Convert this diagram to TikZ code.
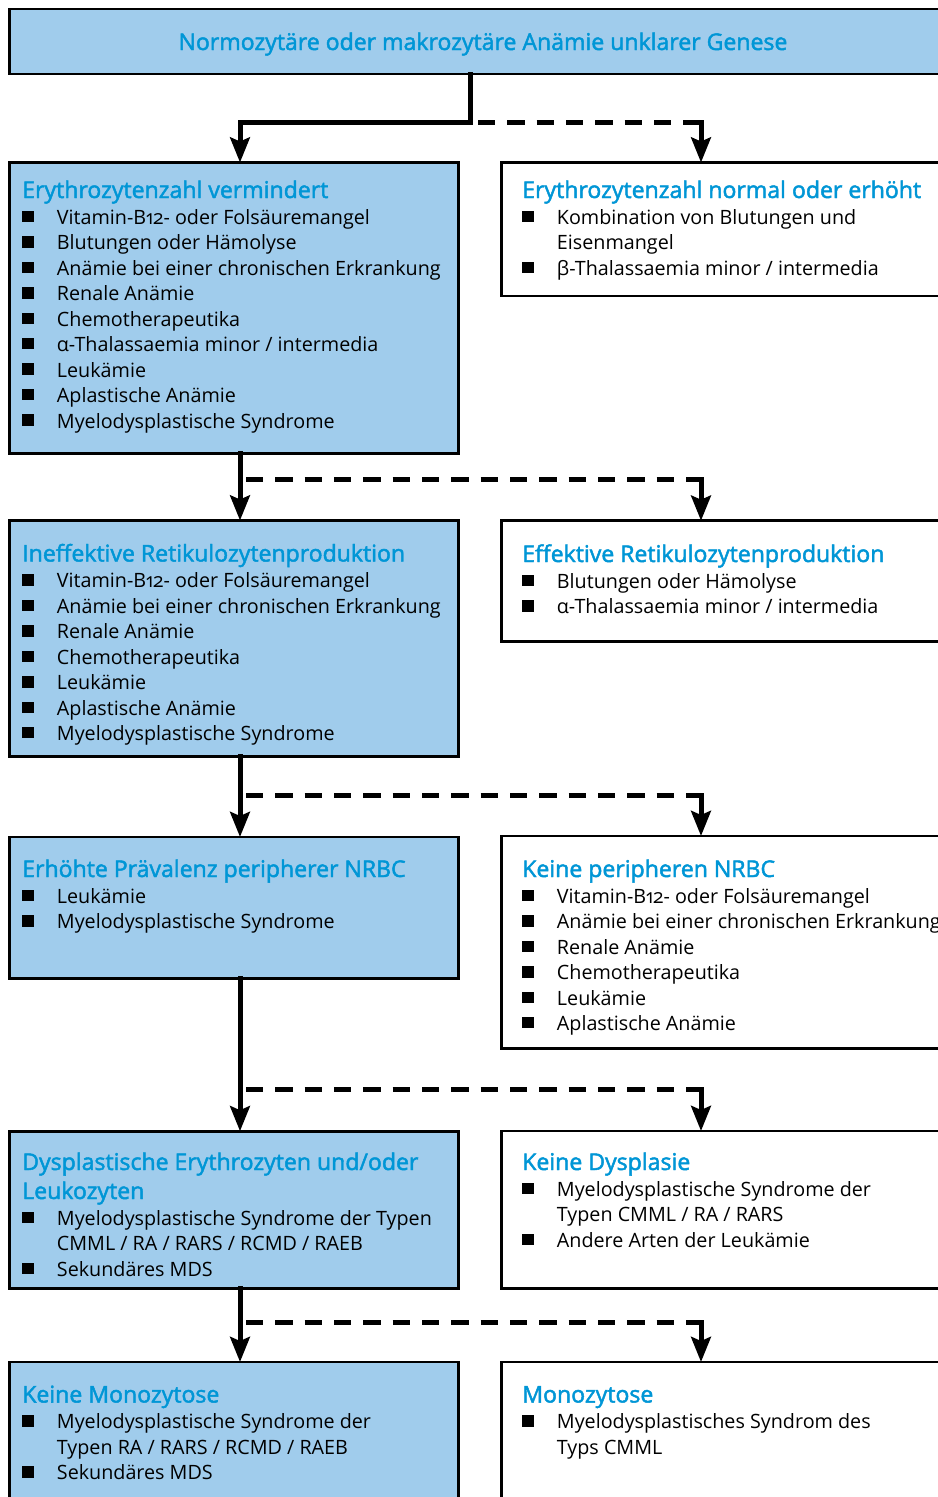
\documentclass[tikz,border=0pt]{standalone}
\usepackage{fontspec}
\setmainfont{Open Sans}
\newfontfamily\oldnum{Open Sans}[Numbers=OldStyle]
\newfontfamily\headfont{Open Sans}[FakeBold=2]
\usetikzlibrary{arrows.meta}

\definecolor{boxblue}{RGB}{160,204,236}
\definecolor{headblue}{RGB}{0,150,214}

% bullet, continuation indent, heading
\newcommand\bul{\makebox[26pt][l]{\rule[1.6pt]{8.6pt}{8.6pt}}}
\newcommand\cnt{\hspace*{26pt}}
\newcommand\hd[1]{{\headfont\fontsize{17.3pt}{21.75pt}\selectfont\color{headblue}#1}}
\newcommand\Bzw{B{\oldnum 12}}

\tikzset{
  box/.style={draw, line width=2.2pt, outer sep=0pt, inner sep=0pt, anchor=north west, minimum width=336.4pt},
  bluebox/.style={box, fill=boxblue},
  whitebox/.style={box, fill=white},
  txt/.style={anchor=base west, inner sep=0pt, font=\fontsize{14.8pt}{19.1pt}\selectfont},
  yesarrow/.style={line width=3.75pt, line cap=rect, -{Stealth[length=18.75pt,width=14.7pt,inset=3pt]}},
  noline/.style={line width=3.75pt, dash pattern=on 13pt off 9pt},
}

\begin{document}
\begin{tikzpicture}[x=0.75pt,y=0.75pt,yscale=-1,xscale=1]
\useasboundingbox (0,0) rectangle (938,1497);
\clip (0,0) rectangle (938,1497);

%Boxes
\node[bluebox, minimum width=710.6pt, minimum height=48.75pt] (start) at (9.5,9) {};
\node[bluebox, minimum height=218.25pt] (redu) at (9.5,162.5) {};
\node[whitebox, minimum height=100.1pt] (norm) at (501.5,162.5) {};
\node[bluebox, minimum height=177pt] (ineff) at (9.5,520.5) {};
\node[whitebox, minimum height=90.75pt] (eff) at (501.5,520.7) {};
\node[bluebox, minimum height=106.3pt] (nrbc) at (9.5,837) {};
\node[whitebox, minimum height=159.2pt] (nonrbc) at (501.5,836) {};
\node[bluebox, minimum height=118.1pt] (dysp) at (9.5,1131.2) {};
\node[whitebox, minimum height=118.1pt] (nodysp) at (501.5,1131) {};
\node[bluebox, minimum height=150pt] (nomono) at (9.5,1362) {};
\node[whitebox, minimum height=150pt] (mono) at (501.5,1362) {};

%Junctions
\coordinate (lx) at (240,0);
\coordinate (rx) at (701,0);
\coordinate (j0) at (470,122);
\coordinate (j1) at (240,479.5);
\coordinate (j2) at (240,795.5);
\coordinate (j3) at (240,1089);
\coordinate (j4) at (240,1322);

%Connectors
\draw[yesarrow] (start.south -| j0) -- (j0) -| (redu.north -| lx);
\draw[noline, dash phase=16pt] (j0) -- (j0 -| rx);
\draw[yesarrow] (j0 -| rx) -- (norm.north -| rx);

\draw[yesarrow] (redu.south -| lx) -- (ineff.north -| lx);
\draw[noline, dash phase=17.5pt] (j1) -- (j1 -| rx);
\draw[yesarrow] (j1 -| rx) -- (eff.north -| rx);

\draw[yesarrow] (ineff.south -| lx) -- (nrbc.north -| lx);
\draw[noline, dash phase=17.5pt] (j2) -- (j2 -| rx);
\draw[yesarrow] (j2 -| rx) -- (nonrbc.north -| rx);

\draw[yesarrow] (nrbc.south -| lx) -- (dysp.north -| lx);
\draw[noline, dash phase=17.5pt] (j3) -- (j3 -| rx);
\draw[yesarrow] (j3 -| rx) -- (nodysp.north -| rx);

\draw[yesarrow] (dysp.south -| lx) -- (nomono.north -| lx);
\draw[noline, dash phase=17.5pt] (j4) -- (j4 -| rx);
\draw[yesarrow] (j4 -| rx) -- (mono.north -| rx);

% Text Node
\node[inner sep=0pt, anchor=base] (starttxt) at (483,50) {\hd{Normozytäre oder makrozytäre Anämie unklarer Genese}};
% Text Node
\node[txt] (redutxt) at (22,198) {\begin{tabular}[t]{@{}l@{}}
\hd{Erythrozytenzahl vermindert}\\[0.6pt]
\bul Vitamin-\Bzw- oder Folsäuremangel\\
\bul Blutungen oder Hämolyse\\
\bul Anämie bei einer chronischen Erkrankung\\
\bul Renale Anämie\\
\bul Chemotherapeutika\\
\bul α-Thalassaemia minor / intermedia\\
\bul Leukämie\\
\bul Aplastische Anämie\\
\bul Myelodysplastische Syndrome
\end{tabular}};
% Text Node
\node[txt] (normtxt) at (522,198) {\begin{tabular}[t]{@{}l@{}}
\hd{Erythrozytenzahl normal oder erhöht}\\[0.6pt]
\bul Kombination von Blutungen und\\
\cnt Eisenmangel\\
\bul β-Thalassaemia minor / intermedia
\end{tabular}};
% Text Node
\node[txt] (inefftxt) at (22,561.5) {\begin{tabular}[t]{@{}l@{}}
\hd{Ineffektive Retikulozytenproduktion}\\[0.6pt]
\bul Vitamin-\Bzw- oder Folsäuremangel\\
\bul Anämie bei einer chronischen Erkrankung\\
\bul Renale Anämie\\
\bul Chemotherapeutika\\
\bul Leukämie\\
\bul Aplastische Anämie\\
\bul Myelodysplastische Syndrome
\end{tabular}};
% Text Node
\node[txt] (efftxt) at (522,562) {\begin{tabular}[t]{@{}l@{}}
\hd{Effektive Retikulozytenproduktion}\\[0.6pt]
\bul Blutungen oder Hämolyse\\
\bul α-Thalassaemia minor / intermedia
\end{tabular}};
% Text Node
\node[txt] (nrbctxt) at (22,877) {\begin{tabular}[t]{@{}l@{}}
\hd{Erhöhte Prävalenz peripherer NRBC}\\[0.6pt]
\bul Leukämie\\
\bul Myelodysplastische Syndrome
\end{tabular}};
% Text Node
\node[txt] (nonrbctxt) at (522,877) {\begin{tabular}[t]{@{}l@{}}
\hd{Keine peripheren NRBC}\\[0.6pt]
\bul Vitamin-\Bzw- oder Folsäuremangel\\
\bul Anämie bei einer chronischen Erkrankung\\
\bul Renale Anämie\\
\bul Chemotherapeutika\\
\bul Leukämie\\
\bul Aplastische Anämie
\end{tabular}};
% Text Node
\node[txt] (dysptxt) at (22,1170) {\begin{tabular}[t]{@{}l@{}}
\hd{Dysplastische Erythrozyten und/oder}\\[2.65pt]
\hd{Leukozyten}\\[0.6pt]
\bul Myelodysplastische Syndrome der Typen\\
\cnt CMML / RA / RARS / RCMD / RAEB\\
\bul Sekundäres MDS
\end{tabular}};
% Text Node
\node[txt] (nodysptxt) at (522,1170) {\begin{tabular}[t]{@{}l@{}}
\hd{Keine Dysplasie}\\[0.6pt]
\bul Myelodysplastische Syndrome der\\
\cnt Typen CMML / RA / RARS\\
\bul Andere Arten der Leukämie
\end{tabular}};
% Text Node
\node[txt] (nomonotxt) at (22,1402.5) {\begin{tabular}[t]{@{}l@{}}
\hd{Keine Monozytose}\\[0.6pt]
\bul Myelodysplastische Syndrome der\\
\cnt Typen RA / RARS / RCMD / RAEB\\
\bul Sekundäres MDS
\end{tabular}};
% Text Node
\node[txt] (monotxt) at (522,1402.5) {\begin{tabular}[t]{@{}l@{}}
\hd{Monozytose}\\[0.6pt]
\bul Myelodysplastisches Syndrom des\\
\cnt Typs CMML
\end{tabular}};

\end{tikzpicture}
\end{document}
